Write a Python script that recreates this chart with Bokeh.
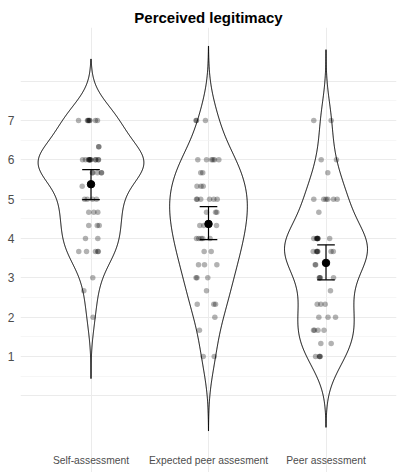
import numpy as np
from bokeh.plotting import figure
from bokeh.models import FixedTicker, Range1d
from bokeh.core.properties import value
from bokeh.embed import file_html
from bokeh.resources import INLINE

categories = ["Self-assessment", "Expected peer assesment", "Peer assessment"]
y_ticks = [1, 2, 3, 4, 5, 6, 7]

self_vals = [7, 7, 7, 7, 7, 7, 7, 7, 6.33, 6.33,
             6, 6, 6, 6, 6, 6, 6, 6, 6, 6, 6, 6,
             5.67, 5.67, 5.67, 5.67, 5.67, 5.33,
             5, 5, 5, 5, 4.67, 4.67, 4.67, 4.33, 4.33, 4.33, 4, 4,
             3.67, 3.67, 3.67, 3.67, 3.67, 3, 2.67, 2]
self_jit = [-0.106, -0.030, -0.025, -0.021, -0.013, -0.010, 0.038, 0.055, 0.066, 0.066,
            -0.072, -0.047, -0.021, -0.017, -0.013, -0.010, -0.004, -0.002, 0.038, 0.040, 0.062, 0.064,
            0.013, 0.013, 0.055, 0.089, 0.089, -0.075,
            -0.055, -0.032, 0.013, 0.047, -0.019, 0.024, 0.058,
            -0.019, 0.053, 0.070, -0.047, 0.058,
            -0.104, -0.038, 0.038, 0.058, 0.062, 0.015, -0.061, 0.017]

exp_vals = [7, 7, 7, 6, 6, 6, 6, 6, 6, 5.67, 5.67, 5.33, 5.33, 5.33,
            5, 5, 5, 5, 5, 5, 4.67, 4.67, 4.67, 4.33, 4.33, 4.33,
            4, 4, 4, 4, 4, 3.67, 3.67, 3.33, 3.33, 3.33, 3, 3, 3,
            2.67, 2.33, 2.33, 2.33, 2, 1.67, 1, 1]
exp_jit = [-0.106, -0.102, -0.026, -0.091, -0.017, 0.026, 0.038, 0.051, 0.088,
           -0.066, -0.049, -0.098, -0.064, -0.045,
           -0.102, -0.096, -0.066, 0.009, 0.045, 0.074,
           -0.017, 0.060, 0.071, -0.074, -0.040, 0.068,
           -0.102, -0.083, -0.062, -0.049, 0.013, -0.037, 0.023,
           -0.085, -0.034, 0.071, -0.106, -0.098, -0.006,
           -0.017, -0.096, 0.045, 0.060, 0.054, -0.077, -0.045, 0.049]

peer_vals = [7, 7, 6, 6, 5.67, 5, 5, 5, 5, 5, 5, 4.67,
             4, 4, 4, 4, 4, 4, 4, 4, 3.67, 3.67, 3.67, 3.67, 3.67, 3.67, 3.67,
             3.33, 3.33, 3, 3, 3, 3, 2.67, 2.33, 2.33, 2.33, 2, 2, 2,
             1.67, 1.67, 1.67, 1.67, 1.33, 1.33, 1, 1, 1, 1]
peer_jit = [-0.104, 0.044, -0.041, 0.089, 0.015,
            -0.104, -0.019, 0.000, 0.015, 0.064, 0.095, -0.061,
            -0.104, -0.081, -0.077, -0.074, -0.072, -0.070, -0.068, 0.031,
            -0.109, -0.081, -0.077, -0.073, -0.070, 0.043, 0.062,
            -0.092, -0.088, -0.057, -0.053, -0.049, 0.064, 0.038,
            -0.075, -0.044, -0.007, -0.061, 0.017, 0.081,
            -0.106, -0.098, -0.068, -0.017,
            -0.044, 0.044, -0.089, -0.057, -0.053, -0.049]

# kernel bandwidths (3 bandwidths beyond the data range)
violin_bw = [0.52, 0.63, 0.60]

means = [5.38, 4.37, 3.38]
ci_low = [4.99, 3.97, 2.95]
ci_high = [5.75, 4.81, 3.84]

groups = [(self_vals, self_jit), (exp_vals, exp_jit), (peer_vals, peer_jit)]

FONT = "Liberation Sans"

# panel limits (data units); the strip under the panel holds the category labels
Y_TOP = 9.365
Y_PANEL_BOTTOM = -1.39
Y_FIG_BOTTOM = -1.949
LABEL_Y = -1.504

p = figure(width=402, height=472, output_backend="svg", toolbar_location=None,
           x_range=Range1d(0.4, 3.6), y_range=Range1d(Y_FIG_BOTTOM, Y_TOP),
           title="Perceived legitimacy")
p.min_border = 0
p.min_border_left = 20
p.min_border_right = 6
p.min_border_top = 27
p.min_border_bottom = 0
p.outline_line_color = None
p.background_fill_color = "white"
p.border_fill_color = "white"

p.title.text_font = FONT
p.title.text_font_size = "15px"
p.title.text_font_style = "bold"
p.title.align = "center"
p.title.vertical_align = "top"
p.title.text_color = "black"
p.title.standoff = 0

# axes
p.xaxis.visible = False
p.yaxis.ticker = FixedTicker(ticks=y_ticks)
ax = p.yaxis[0]
ax.axis_label = None
ax.axis_line_color = None
ax.major_tick_line_color = None
ax.minor_tick_line_color = None
ax.major_tick_out = 0
ax.major_tick_in = 0
ax.minor_tick_out = 0
ax.minor_tick_in = 0
ax.major_label_text_font = FONT
ax.major_label_text_color = "#4D4D4D"
ax.major_label_standoff = 6
ax.major_label_text_font_size = "12px"

# grids
p.ygrid.ticker = FixedTicker(ticks=[i for i in range(0, 9)],
                             minor_ticks=[i + 0.5 for i in range(0, 8)])
p.ygrid.grid_line_color = "#EBEBEB"
p.ygrid.grid_line_width = 1
p.ygrid.minor_grid_line_color = "#F2F2F2"
p.ygrid.minor_grid_line_width = 0.7
p.xgrid.ticker = FixedTicker(ticks=[1, 2, 3])
p.xgrid.grid_line_color = "#EBEBEB"
p.xgrid.grid_line_width = 1
p.xgrid.bounds = (Y_PANEL_BOTTOM, Y_TOP)

# category labels under the panel
p.text(x=[1, 2, 3], y=[LABEL_Y] * 3, text=categories,
       text_font=value(FONT), text_font_size="10.3px", text_color="#4D4D4D",
       text_align="center", text_baseline="top")

# violins: gaussian KDE, tails extended by 3 bandwidths, scale = area
dens = []
for (vals, _), bw in zip(groups, violin_bw):
    v = np.asarray(vals, dtype=float)
    n = len(v)
    grid = np.linspace(v.min() - 3 * bw, v.max() + 3 * bw, 512)
    d = np.exp(-0.5 * ((grid[:, None] - v[None, :]) / bw) ** 2).sum(axis=1) / (n * bw * np.sqrt(2 * np.pi))
    dens.append((grid, d))
dmax = max(d.max() for _, d in dens)
for i, (grid, d) in enumerate(dens):
    c = i + 1
    hw = d / dmax * 0.45
    xs = np.concatenate([c - hw, (c + hw)[::-1]])
    ys = np.concatenate([grid, grid[::-1]])
    p.patch(xs, ys, fill_color="white", fill_alpha=0, line_color="black", line_width=1)

# jittered points
for i, (vals, jit) in enumerate(groups):
    c = i + 1
    p.scatter([c + j for j in jit], vals, size=5.5, fill_color="black",
              fill_alpha=0.3, line_color=None)

# error bars and means
cx = [1, 2, 3]
p.segment(cx, ci_low, cx, ci_high, line_color="black", line_width=1.2)
p.segment([c - 0.075 for c in cx], ci_low, [c + 0.075 for c in cx], ci_low,
          line_color="black", line_width=1.2)
p.segment([c - 0.075 for c in cx], ci_high, [c + 0.075 for c in cx], ci_high,
          line_color="black", line_width=1.2)
p.scatter(cx, means, size=7.5, fill_color="black", line_color="black")

open("out.html", "w").write(file_html(p, INLINE))
